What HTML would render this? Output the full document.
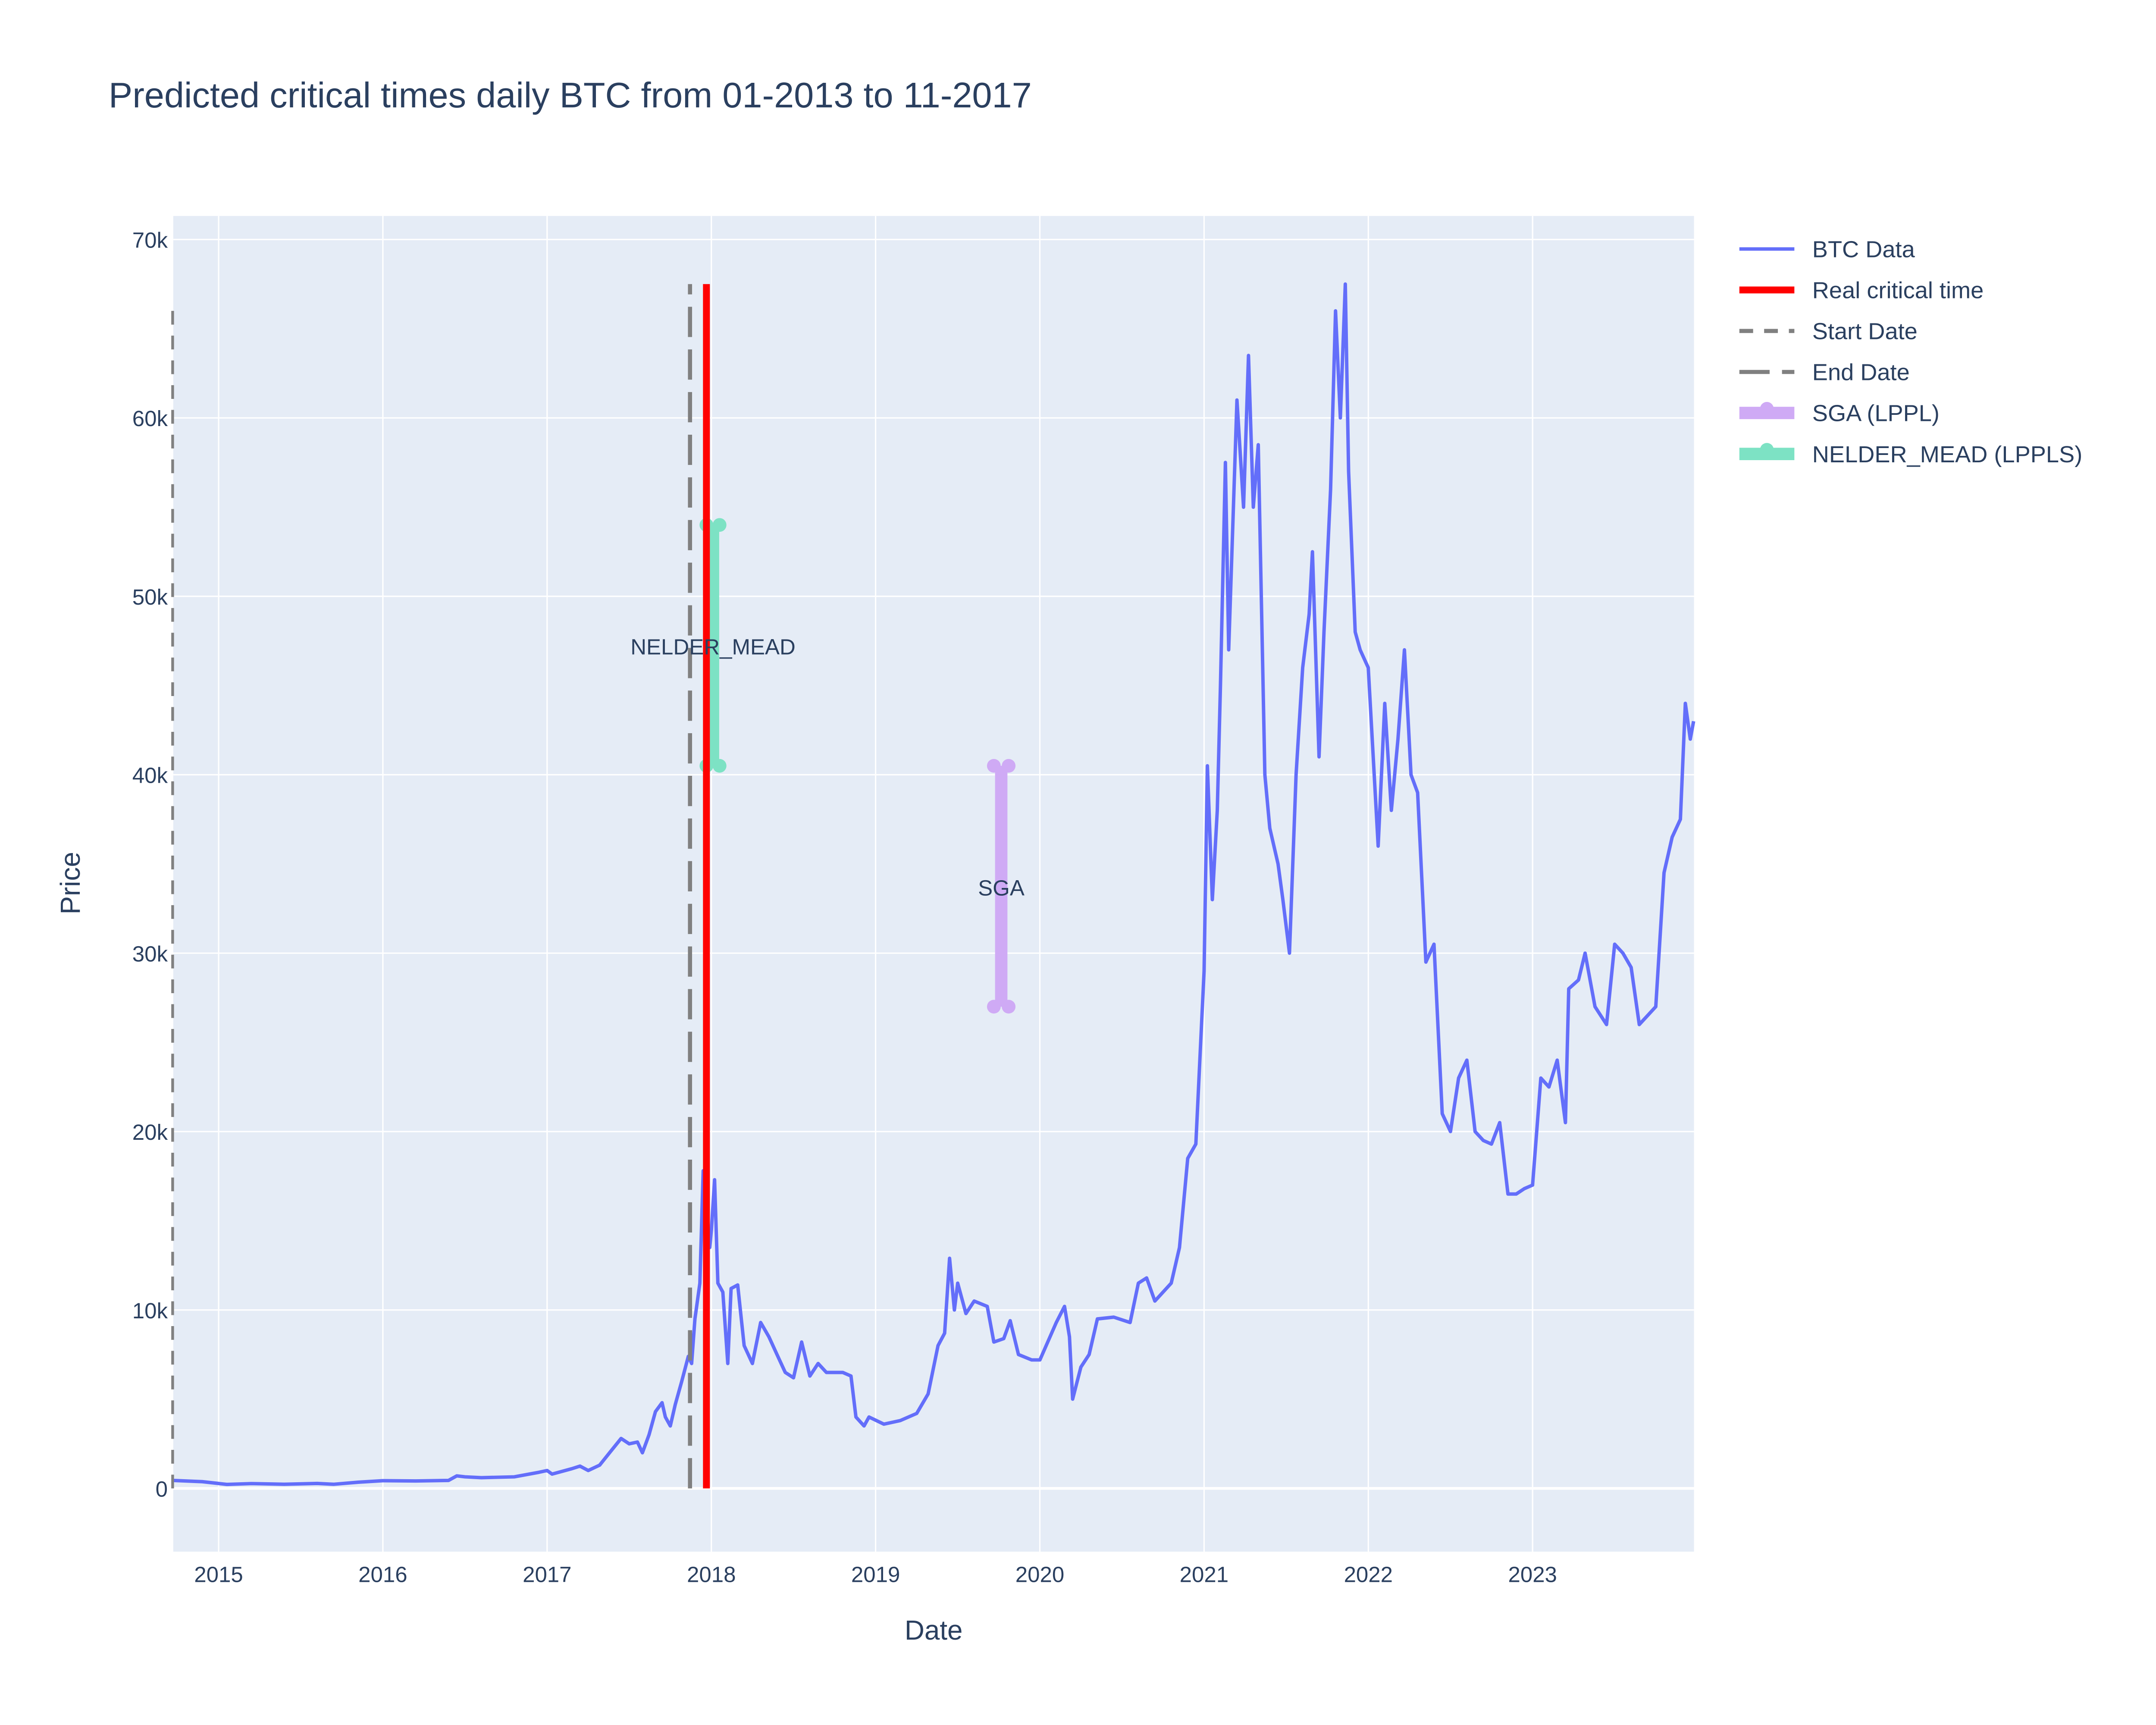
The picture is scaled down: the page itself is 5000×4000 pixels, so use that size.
<!DOCTYPE html>
<html><head><meta charset="utf-8"><style>html,body{margin:0;padding:0;background:#fff}svg{display:block}</style></head>
<body>
<svg id="chart" xmlns="http://www.w3.org/2000/svg" width="5000" height="4000" viewBox="0 0 1568 1254" preserveAspectRatio="none" font-family="'Liberation Sans', sans-serif">
<rect width="1568" height="1254" fill="#fff"/>
<text x="79" y="78" font-size="26" fill="#2a3f5f">Predicted critical times daily BTC from 01-2013 to 11-2017</text>
<rect x="126" y="157" width="1106" height="971" fill="#e5ecf6"/>
<g id="grid"></g>
<g id="marks"></g>
<g id="axes"></g>
<text x="679" y="1192" font-size="20" fill="#2a3f5f" text-anchor="middle">Date</text>
<text x="58" y="642" font-size="20" fill="#2a3f5f" text-anchor="middle" transform="rotate(-90 58 642)">Price</text>
<g id="legend" font-size="16" fill="#2a3f5f"></g>
</svg>
<script>
const yTicks=[0,10000,20000,30000,40000,50000,60000,70000];
const yTickLabels=["0","10k","20k","30k","40k","50k","60k","70k"];
const xTicks=[2015,2016,2017,2018,2019,2020,2021,2022,2023];
const btcDates=[2014.72,2014.9,2015.05,2015.2,2015.4,2015.6,2015.7,2015.85,2016.0,2016.2,2016.4,2016.45,2016.5,2016.6,2016.8,2016.95,2017.0,2017.03,2017.15,2017.2,2017.25,2017.32,2017.38,2017.45,2017.5,2017.55,2017.58,2017.62,2017.66,2017.7,2017.72,2017.75,2017.78,2017.82,2017.86,2017.88,2017.9,2017.93,2017.95,2017.97,2017.99,2018.0,2018.02,2018.04,2018.07,2018.1,2018.12,2018.16,2018.2,2018.25,2018.3,2018.35,2018.4,2018.45,2018.5,2018.55,2018.6,2018.65,2018.7,2018.8,2018.85,2018.88,2018.93,2018.96,2019.05,2019.15,2019.25,2019.32,2019.38,2019.42,2019.45,2019.48,2019.5,2019.55,2019.6,2019.68,2019.72,2019.78,2019.82,2019.87,2019.95,2020.0,2020.1,2020.15,2020.18,2020.2,2020.25,2020.3,2020.35,2020.45,2020.55,2020.6,2020.65,2020.7,2020.8,2020.85,2020.9,2020.95,2021.0,2021.02,2021.05,2021.08,2021.1,2021.13,2021.15,2021.2,2021.24,2021.27,2021.3,2021.33,2021.37,2021.4,2021.45,2021.48,2021.52,2021.56,2021.6,2021.64,2021.66,2021.7,2021.73,2021.77,2021.8,2021.83,2021.86,2021.88,2021.92,2021.95,2022.0,2022.03,2022.06,2022.1,2022.14,2022.18,2022.22,2022.26,2022.3,2022.35,2022.4,2022.45,2022.5,2022.55,2022.6,2022.65,2022.7,2022.75,2022.8,2022.85,2022.9,2022.95,2023.0,2023.05,2023.1,2023.15,2023.2,2023.22,2023.28,2023.32,2023.38,2023.45,2023.5,2023.55,2023.6,2023.65,2023.7,2023.75,2023.8,2023.85,2023.9,2023.93,2023.96,2023.98];
const btcPricesK=[0.45,0.38,0.22,0.27,0.23,0.28,0.23,0.35,0.43,0.42,0.45,0.7,0.65,0.6,0.65,0.9,1.0,0.8,1.1,1.25,1.0,1.3,2.0,2.8,2.5,2.6,2.0,3.0,4.3,4.8,4.0,3.5,4.7,6.0,7.4,7.0,9.5,11.5,17.8,15,13.5,14.5,17.3,11.5,11.0,7.0,11.2,11.4,8.0,7.0,9.3,8.5,7.5,6.5,6.2,8.2,6.3,7.0,6.5,6.5,6.3,4.0,3.5,4.0,3.6,3.8,4.2,5.3,8.0,8.7,12.9,10.0,11.5,9.8,10.5,10.2,8.2,8.4,9.4,7.5,7.2,7.2,9.3,10.2,8.5,5.0,6.8,7.5,9.5,9.6,9.3,11.5,11.8,10.5,11.5,13.5,18.5,19.3,29,40.5,33,38,45,57.5,47,61,55,63.5,55,58.5,40,37,35,33,30,40,46,49,52.5,41,48,56,66,60,67.5,57,48,47,46,41,36,44,38,42,47,40,39,29.5,30.5,21,20,23,24,20,19.5,19.3,20.5,16.5,16.5,16.8,17.0,23,22.5,24,20.5,28,28.5,30,27,26,30.5,30,29.2,26,26.5,27,34.5,36.5,37.5,44,42,43];
const startDate=[2014.72];
const endDate=[2017.87];
const realCritical=[2017.97];
const nmTimes=[2017.97,2018.05];
const nmPrices=[54000,40500];
const sgaTimes=[2019.72,2019.81];
const sgaPrices=[40500,27000];

const NS="http://www.w3.org/2000/svg";
const X0=126,X1=1232,Y0=157,Y1=1128;
const xs=t=>159+(t-2015)*119.45;
const ys=v=>1082-v/10000*129.7;
function mk(tag,attrs,parent){const e=document.createElementNS(NS,tag);for(const k in attrs)e.setAttribute(k,attrs[k]);parent.appendChild(e);return e;}
const grid=document.getElementById('grid'),marks=document.getElementById('marks'),axes=document.getElementById('axes'),legend=document.getElementById('legend');
yTicks.forEach((v,i)=>{
  const l=mk('line',{x1:X0,x2:X1,y1:ys(v),y2:ys(v),stroke:'#fff','stroke-width':v===0?2:1},grid);
  
  
  const t=mk('text',{x:122,y:ys(v)+6,'font-size':16,fill:'#2a3f5f','text-anchor':'end'},axes);
  t.textContent=yTickLabels[i];
  
  
});
xTicks.forEach(y=>{
  const l=mk('line',{x1:xs(y),x2:xs(y),y1:Y0,y2:Y1,stroke:'#fff','stroke-width':1},grid);
  
  
  const t=mk('text',{x:xs(y),y:1150,'font-size':16,fill:'#2a3f5f','text-anchor':'middle'},axes);
  t.textContent=String(y);
  
  
});
let d=btcDates.map((t,i)=>(i?'L':'M')+xs(t).toFixed(1)+','+ys(btcPricesK[i]*1000).toFixed(1)).join('');
const btc=mk('path',{d:d,fill:'none',stroke:'#636efa','stroke-width':2.5,'stroke-linejoin':'round'},marks);


const sl=mk('line',{x1:xs(startDate[0]),x2:xs(startDate[0]),y1:ys(0),y2:ys(66500),stroke:'gray','stroke-width':2,'stroke-dasharray':'10,8'},marks);


const el=mk('line',{x1:xs(endDate[0]),x2:xs(endDate[0]),y1:ys(0),y2:ys(67500),stroke:'gray','stroke-width':3,'stroke-dasharray':'22,9'},marks);


function band(times,prices,color,name){
  const g=mk('g',{},marks);
  
  
  const xm=(xs(times[0])+xs(times[1]))/2;
  mk('line',{x1:xm,x2:xm,y1:ys(prices[0]),y2:ys(prices[1]),stroke:color,'stroke-width':9},g);
  times.forEach(t=>prices.forEach(p=>mk('circle',{cx:xs(t),cy:ys(p),r:5,fill:color},g)));
}
band(nmTimes,nmPrices,'#7de2c4','nelder-mead-band');
band(sgaTimes,sgaPrices,'#cfaaf5','sga-band');
const rl=mk('line',{x1:xs(realCritical[0]),x2:xs(realCritical[0]),y1:ys(0),y2:ys(67500),stroke:'red','stroke-width':5},marks);


const t1=mk('text',{x:(xs(nmTimes[0])+xs(nmTimes[1]))/2,y:ys(47200)+6,'font-size':16,fill:'#2a3f5f','text-anchor':'middle'},marks);
t1.textContent='NELDER_MEAD';


const t2=mk('text',{x:(xs(sgaTimes[0])+xs(sgaTimes[1]))/2,y:ys(33700)+6,'font-size':16,fill:'#2a3f5f','text-anchor':'middle'},marks);
t2.textContent='SGA';


const items=[['BTC Data','#636efa',2.5,'',false],['Real critical time','red',5,'',false],['Start Date','gray',3,'10,8',false],['End Date','gray',3,'22,9',false],['SGA (LPPL)','#cfaaf5',9,'',true],['NELDER_MEAD (LPPLS)','#7de2c4',9,'',true]];
items.forEach((it,i)=>{
  const y=181+i*29.8;
  const g=mk('g',{},legend);
  
  
  const a={x1:1265,x2:1305,y1:y,y2:y,stroke:it[1],'stroke-width':it[2]};
  if(it[3])a['stroke-dasharray']=it[3];
  mk('line',a,g);
  if(it[4])mk('circle',{cx:1285,cy:y-3,r:5,fill:it[1]},g);
  const t=mk('text',{x:1318,y:y+6,'font-size':17,fill:'#2a3f5f'},g);
  t.textContent=it[0];
});
</script>
</body></html>
